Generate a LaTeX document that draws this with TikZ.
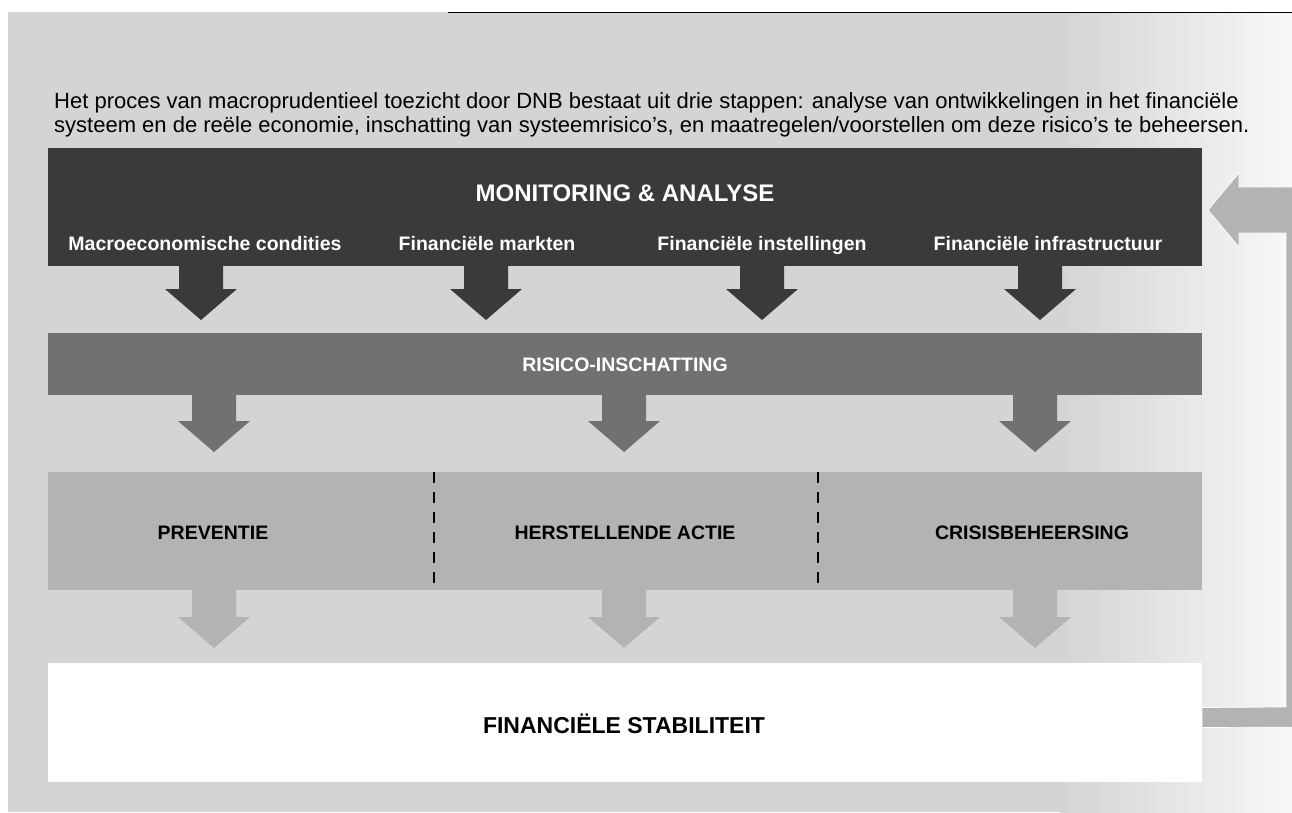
\documentclass[tikz,border=0pt]{standalone}
\usepackage{fontspec}
\setmainfont{Liberation Sans}
\usetikzlibrary{calc}
\definecolor{bg}{HTML}{D4D4D4}
\definecolor{fade}{HTML}{F8F8F8}
\definecolor{darkbox}{HTML}{3A3A3A}
\definecolor{midbox}{HTML}{717171}
\definecolor{lightbox}{HTML}{B3B3B3}
% #1 = x of arrow centre, #2 = box node it leaves, #3 = colour, #4 = stem length
\newcommand{\blockarrow}[4]{%
  \path (#1,0) coordinate (bx);
  \fill[#3] (#2.south -| bx) ++(-22,0) -- ++(0,#4) -- ++(-14,0) -- ++(36,31)
    -- ++(36,-31) -- ++(-14,0) -- ++(0,-#4) -- cycle;}
\begin{document}
\begin{tikzpicture}[x=1pt,y=-1pt,
  box/.style={inner sep=0, outer sep=0, anchor=north west, minimum width=1154pt},
  intro/.style={inner sep=0, anchor=base west, font=\fontsize{22}{25}\selectfont},
  sublbl/.style={inner sep=0, anchor=base, font=\fontsize{19.5}{23}\selectfont\bfseries},
  divider/.style={black, line width=2pt, dash pattern=on 11pt off 9pt}]
\useasboundingbox (0,0) rectangle (1292,812);
% background
\fill[white] (0,0) rectangle (1292,812);
\fill[bg] (8,12) rectangle (1292,812);
\shade[left color=bg, right color=fade] (1060,12) rectangle (1292,812);
\draw[line width=1.3pt] (448,12.7) -- (1292,12.7);
% intro text
\node[intro] (intro1) at (54,108) {Het proces van macroprudentieel toezicht door DNB bestaat uit drie stappen: analyse van ontwikkelingen in het financiële};
\node[intro] (intro2) at (54,132) {systeem en de reële economie, inschatting van systeemrisico’s, en maatregelen/voorstellen om deze risico’s te beheersen.};
% boxes
\node[box, fill=darkbox, minimum height=118pt] (mon) at (48,148) {};
\node[box, fill=midbox, minimum height=62pt] (risk) at (48,333) {};
\node[box, fill=lightbox, minimum height=118pt] (act) at (48,472) {};
\node[box, fill=white, minimum height=119pt] (stab) at (48,663) {};
% texts
\node[sublbl, white, font=\fontsize{24}{28}\selectfont\bfseries] (montitle) at (625,201) {MONITORING \& ANALYSE};
\node[sublbl, white] (m1) at (205,250) {Macroeconomische condities};
\node[sublbl, white] (m2) at (487,250) {Financiële markten};
\node[sublbl, white] (m3) at (762,250) {Financiële instellingen};
\node[sublbl, white] (m4) at (1048,250) {Financiële infrastructuur};
\node[sublbl, white] (risktitle) at (625,371) {RISICO-INSCHATTING};
\node[sublbl] (a1) at (213,539) {PREVENTIE};
\node[sublbl] (a2) at (625,539) {HERSTELLENDE ACTIE};
\node[sublbl] (a3) at (1032,539) {CRISISBEHEERSING};
\node[sublbl, font=\fontsize{23}{27}\selectfont\bfseries] (stabtitle) at (624,733) {FINANCIËLE STABILITEIT};
% dividers
\coordinate (d1) at (434,0);
\coordinate (d2) at (818,0);
\draw[divider] (act.north -| d1) -- (act.south -| d1);
\draw[divider] (act.north -| d2) -- (act.south -| d2);
% block arrows
\blockarrow{201}{mon}{darkbox}{23}
\blockarrow{486}{mon}{darkbox}{23}
\blockarrow{762}{mon}{darkbox}{23}
\blockarrow{1040}{mon}{darkbox}{23}
\blockarrow{214}{risk}{midbox}{26}
\blockarrow{624}{risk}{midbox}{26}
\blockarrow{1035}{risk}{midbox}{26}
\blockarrow{214}{act}{lightbox}{27}
\blockarrow{624}{act}{lightbox}{27}
\blockarrow{1035}{act}{lightbox}{27}
% feedback arrow
\begin{scope}
\clip (0,0) rectangle (1292,812);
\fill[lightbox, draw=white, line width=0.7pt] ($(mon.east)+(6,3)$) -- ++(31,-37) -- ++(0,14) -- ++(81,0)
  -- (1320,727) -- ($(stab.east)+(0,5)$) -- ++(0,-20) -- (1286,707) -- (1286,233)
  -- (1239,233) -- (1239,247) -- cycle;
\end{scope}
\end{tikzpicture}
\end{document}
